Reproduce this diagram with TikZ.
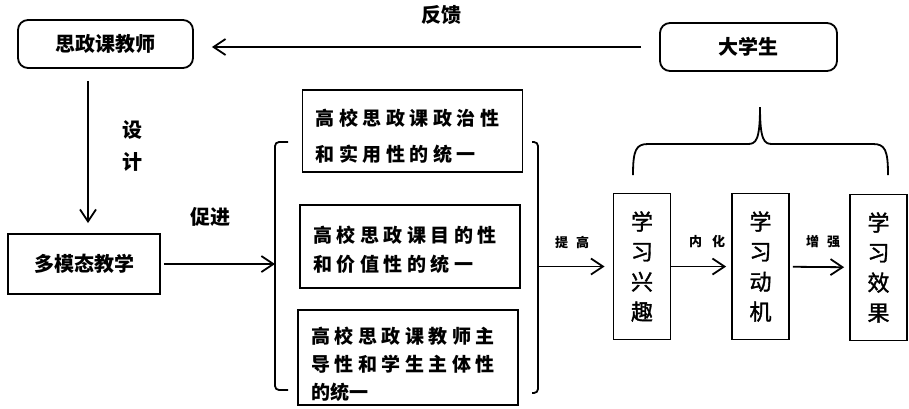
\documentclass[tikz,border=0pt]{standalone}
\usepackage{fontspec}
\newfontfamily\cjk{Noto Sans CJK SC}
\newcommand\topgap[1]{\rule{0pt}{#1}}
\usetikzlibrary{arrows.meta}
\begin{document}
\begin{tikzpicture}[x=0.5pt,y=-0.5pt,line width=0.9pt,
    every node/.style={inner sep=0pt,font=\cjk\bfseries\fontsize{10}{12}\selectfont},
    rbox/.style={draw,rounded corners=5pt,minimum width=#1,minimum height=24pt},
    sbox/.style={draw,inner xsep=6.5pt,text width=97pt,align=left,
      font=\cjk\bfseries\fontsize{9.5}{#1}\selectfont\addfontfeature{LetterSpace=24}},
    tall/.style={draw,minimum width=28.5pt,minimum height=73pt,align=center,
      font=\cjk\fontsize{11}{15}\selectfont\addfontfeature{FakeBold=1.5}},
    small/.style={font=\cjk\bfseries\fontsize{6.5}{8}\selectfont},
    tip/.style={-{Straight Barb[length=6pt,width=8pt]}}]
  \useasboundingbox(0,0)rectangle(909,408);
  \node[rbox=87.5pt](teacher)at(105.5,44){思政课教师};
  \node[rbox=88.5pt](student)at(748.5,47){大学生};
  \node[draw,minimum width=76pt,minimum height=30pt](multi)at(84,264){多模态教学};
  \node[sbox=18pt,minimum height=41pt](u1)at(412.5,131){\topgap{13.4pt}高校思政课政治性\\和实用性的统一};
  \node[sbox=14.5pt,minimum height=41.5pt](u2)at(410,246.5){\topgap{11.4pt}高校思政课目的性\\和价值性的统一};
  \node[sbox=14pt,minimum height=47.5pt](u3)at(408,357.5){\topgap{15.4pt}高校思政课教师主\\导性和学生主体性\\
    \addfontfeature{LetterSpace=0}的统一};
  \node[tall](interest)at(642,266.5){学\\习\\兴\\趣};
  \node[tall](motive)at(760.5,266.5){学\\习\\动\\机};
  \node[tall](effect)at(878.5,267.5){学\\习\\效\\果};
  \node(fb)at(441,15){反馈};
  \node[align=center,font=\cjk\bfseries\fontsize{10}{16}\selectfont](design)at(132,146){设\\计};
  \node(promote)at(210,217){促进};
  \node[small](raise)at(572,242){提\hspace{4pt}高};
  \node[small](absorb)at(707,242){内\hspace{5pt}化};
  \node[small](boost)at(823,242){增\hspace{4pt}强};
  \coordinate(lb)at(275,264);
  \coordinate(rb)at(538,266.5);
  \coordinate(peak)at(760,107);
  \draw[rounded corners=2pt](288,142)-|(lb)|-(288,390);
  \draw[rounded corners=2pt](532,142)-|(rb)|-(532,393);
  \draw[tip,shorten <=6pt,shorten >=5pt]([xshift=2pt]teacher.south-|multi)--([xshift=2pt]multi.north);
  \draw[tip,shorten <=9pt,shorten >=9pt](student.west)--(student.west-|teacher.east);
  \draw[tip,shorten <=1.5pt](multi)--(lb);
  \draw[tip,shorten >=4pt](rb)--(interest);
  \draw[tip,shorten >=2.5pt](interest)--(motive);
  \draw[tip,shorten <=1.5pt,shorten >=2.5pt](motive)--(effect);
  \draw(633,175)..controls(633,150)and(636,144)..(648,144)--(748,144)
     ..controls(756,144)and(760,140)..(peak);
  \draw(888,175)..controls(888,150)and(885,144)..(873,144)--(772,144)
     ..controls(764,144)and(760,140)..(peak);
\end{tikzpicture}
\end{document}
